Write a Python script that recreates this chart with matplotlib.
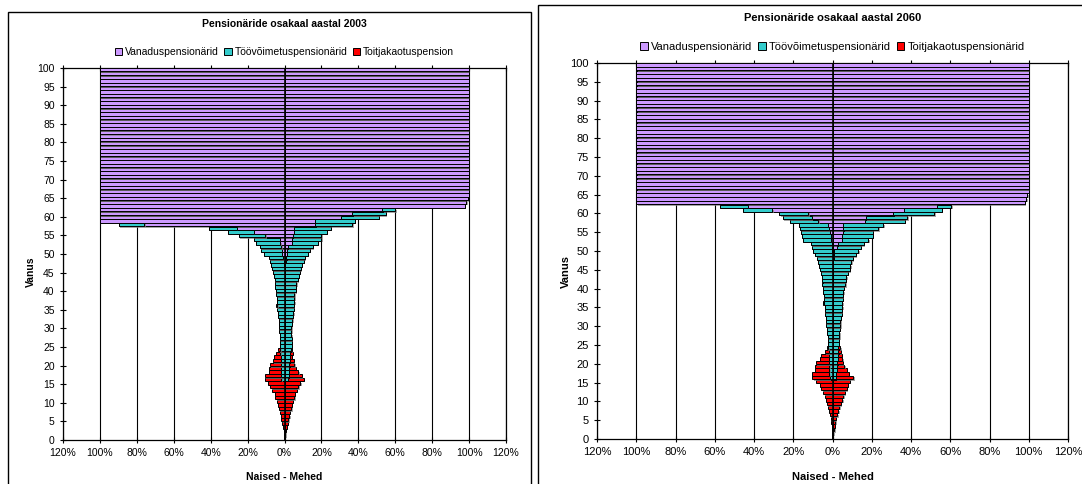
import numpy as np
import matplotlib
matplotlib.use('Agg')
import matplotlib.pyplot as plt
from matplotlib.patches import Patch, Rectangle
import matplotlib.patheffects as pe

plt.rcParams['font.family'] = ['Liberation Sans', 'DejaVu Sans']

ages = np.arange(0, 101)

# ---- 2003: shares (%) by age 0..100 ----
w03_old = [0, 0, 0, 0, 0, 0, 0, 0, 0, 0, 0, 0, 0, 0, 0, 0, 0, 0, 0, 0,
           0, 0, 0, 0, 0, 0, 0, 0, 0, 0, 0, 0, 0, 0, 0, 0, 0, 0, 0, 0,
           0, 0, 0, 0, 0, 0, 0, 0.2, 0.5, 0.6, 1.3, 1.3, 1.8, 2.3, 2.7, 10.4, 16.5, 26.0, 76.0, 100,
           100, 100, 100, 100, 100, 100, 100, 100, 100, 100, 100, 100, 100, 100, 100, 100, 100, 100, 100, 100,
           100, 100, 100, 100, 100, 100, 100, 100, 100, 100, 100, 100, 100, 100, 100, 100, 100, 100, 100, 100,
           100]
w03_dis = [0, 0, 0, 0, 0, 0, 0, 0, 0, 0, 0, 0, 0, 0, 0, 0, 1.8, 2.0, 2.0, 2.0,
           2.0, 2.0, 2.1, 2.2, 2.3, 2.4, 2.5, 2.5, 2.6, 2.8, 3.0, 3.1, 3.2, 3.4, 3.6, 3.9, 4.0, 4.1, 4.3, 4.4,
           4.7, 4.9, 5.0, 5.4, 5.9, 6.2, 6.7, 7.2, 7.1, 7.8, 10.0, 11.3, 11.7, 13.0, 14.0, 14.2, 14.0, 14.8, 13.8, 0,
           0, 0, 0, 0, 0, 0, 0, 0, 0, 0, 0, 0, 0, 0, 0, 0, 0, 0, 0, 0,
           0, 0, 0, 0, 0, 0, 0, 0, 0, 0, 0, 0, 0, 0, 0, 0, 0, 0, 0, 0,
           0]
w03_surv = [0.2, 0.3, 0.5, 0.7, 1.1, 1.7, 2.0, 2.6, 3.0, 3.7, 4.3, 4.9, 5.4, 6.7, 7.7, 9.0, 9.0, 8.8, 6.6, 6.2,
            6.0, 4.4, 3.7, 2.3, 1.1, 0, 0, 0, 0, 0, 0, 0, 0, 0, 0, 0, 0.6, 0, 0, 0,
            0, 0, 0, 0, 0, 0, 0, 0, 0, 0, 0, 0, 0, 0, 0, 0, 0, 0, 0, 0,
            0, 0, 0, 0, 0, 0, 0, 0, 0, 0, 0, 0, 0, 0, 0, 0, 0, 0, 0, 0,
            0, 0, 0, 0, 0, 0, 0, 0, 0, 0, 0, 0, 0, 0, 0, 0, 0, 0, 0, 0,
            0]
m03_old = [0, 0, 0, 0, 0, 0, 0, 0, 0, 0, 0, 0, 0, 0, 0, 0, 0, 0, 0, 0,
           0, 0, 0, 0, 0, 0, 0, 0, 0, 0, 0, 0, 0, 0, 0, 0, 0, 0, 0, 0,
           0, 0, 0, 0, 0, 0.2, 0.3, 0.5, 0.8, 1.0, 1.3, 1.3, 1.8, 4.0, 4.2, 4.5, 5.0, 5.4, 16.6, 16.6,
           30.7, 36.7, 53.0, 97.6, 98.5, 99.3, 100, 100, 100, 100, 100, 100, 100, 100, 100, 100, 100, 100, 100, 100,
           100, 100, 100, 100, 100, 100, 100, 100, 100, 100, 100, 100, 100, 100, 100, 100, 100, 100, 100, 100,
           100]
m03_dis = [0, 0, 0, 0, 0, 0, 0, 0, 0, 0, 0, 0, 0, 0, 0, 0, 2.0, 2.2, 2.4, 2.5,
           2.6, 2.8, 3.0, 3.2, 3.4, 4.1, 4.0, 3.8, 3.7, 3.7, 3.7, 4.0, 4.2, 4.5, 4.7, 4.9, 5.2, 5.4, 5.4, 5.4,
           6.0, 6.0, 6.3, 7.2, 7.8, 8.1, 8.4, 9.0, 9.6, 10.0, 11.4, 12.3, 13.6, 14.0, 15.8, 15.5, 18.0, 19.6, 20.1, 21.4,
           20.3, 18.3, 7.0, 0, 0, 0, 0, 0, 0, 0, 0, 0, 0, 0, 0, 0, 0, 0, 0, 0,
           0, 0, 0, 0, 0, 0, 0, 0, 0, 0, 0, 0, 0, 0, 0, 0, 0, 0, 0, 0,
           0]
m03_surv = [0.3, 0.4, 0.7, 1.1, 1.7, 2.0, 2.6, 3.0, 3.6, 4.1, 4.5, 5.4, 5.6, 6.7, 7.5, 8.6, 8.5, 7.1, 5.1, 3.5,
            2.8, 2.1, 1.1, 1.3, 0.7, 0, 0, 0, 0, 0, 0, 0, 0, 0, 0, 0, 0, 0, 0, 0,
            0, 0, 0, 0, 0, 0, 0, 0, 0, 0, 0, 0, 0, 0, 0, 0, 0, 0, 0, 0,
            0, 0, 0, 0, 0, 0, 0, 0, 0, 0, 0, 0, 0, 0, 0, 0, 0, 0, 0, 0,
            0, 0, 0, 0, 0, 0, 0, 0, 0, 0, 0, 0, 0, 0, 0, 0, 0, 0, 0, 0,
            0]

# ---- 2060 ----
w60_old = [0, 0, 0, 0, 0, 0, 0, 0, 0, 0, 0, 0, 0, 0, 0, 0, 0, 0, 0, 0,
           0, 0, 0, 0, 0, 0, 0, 0, 0, 0, 0, 0, 0, 0, 0, 0, 0, 0, 0, 0,
           0, 0, 0, 0, 0, 0, 0, 0, 0, 0, 0.3, 0.5, 0.5, 0.8, 1.0, 1.4, 1.9, 2.4, 7.3, 10.6,
           12.3, 30.6, 43.2, 100, 100, 100, 100, 100, 100, 100, 100, 100, 100, 100, 100, 100, 100, 100, 100, 100,
           100, 100, 100, 100, 100, 100, 100, 100, 100, 100, 100, 100, 100, 100, 100, 100, 100, 100, 100, 100,
           100]
w60_dis = [0, 0, 0, 0, 0, 0, 0, 0, 0, 0, 0, 0, 0, 0, 0, 0, 1.5, 1.6, 1.7, 1.7,
           1.8, 1.8, 1.9, 2.0, 2.1, 2.3, 2.4, 2.5, 2.8, 3.0, 3.2, 3.3, 3.5, 3.7, 3.9, 4.0, 4.3, 4.4, 4.5, 4.6,
           4.7, 5.1, 5.1, 5.4, 5.8, 6.3, 6.8, 7.6, 8.1, 8.8, 9.5, 10.0, 10.5, 14.0, 14.6, 14.4, 14.5, 14.6, 14.2, 14.7,
           14.8, 14.9, 14.3, 0, 0, 0, 0, 0, 0, 0, 0, 0, 0, 0, 0, 0, 0, 0, 0, 0,
           0, 0, 0, 0, 0, 0, 0, 0, 0, 0, 0, 0, 0, 0, 0, 0, 0, 0, 0, 0,
           0]
w60_surv = [0.2, 0.3, 0.4, 0.5, 0.9, 1.0, 1.4, 1.9, 2.3, 2.8, 3.2, 4.0, 4.6, 5.8, 6.3, 8.5, 8.7, 9.0, 7.1, 7.1,
            6.7, 4.5, 3.9, 1.9, 0.7, 0, 0, 0, 0, 0, 0, 0, 0, 0, 0, 0, 0.5, 0, 0, 0,
            0, 0, 0, 0, 0, 0, 0, 0, 0, 0, 0, 0, 0, 0, 0, 0, 0, 0, 0, 0,
            0, 0, 0, 0, 0, 0, 0, 0, 0, 0, 0, 0, 0, 0, 0, 0, 0, 0, 0, 0,
            0, 0, 0, 0, 0, 0, 0, 0, 0, 0, 0, 0, 0, 0, 0, 0, 0, 0, 0, 0,
            0]
m60_old = [0, 0, 0, 0, 0, 0, 0, 0, 0, 0, 0, 0, 0, 0, 0, 0, 0, 0, 0, 0,
           0, 0, 0, 0, 0, 0, 0, 0, 0, 0, 0, 0, 0, 0, 0, 0, 0, 0, 0, 0,
           0, 0, 0, 0, 0, 0, 0, 0.5, 0.6, 0.8, 1.0, 2.2, 2.7, 4.6, 4.8, 5.1, 5.6, 5.6, 16.6, 17.0,
           30.9, 36.5, 53.5, 98.0, 98.8, 99.3, 100, 100, 100, 100, 100, 100, 100, 100, 100, 100, 100, 100, 100, 100,
           100, 100, 100, 100, 100, 100, 100, 100, 100, 100, 100, 100, 100, 100, 100, 100, 100, 100, 100, 100,
           100]
m60_dis = [0, 0, 0, 0, 0, 0, 0, 0, 0, 0, 0, 0, 0, 0, 0, 0, 1.8, 2.0, 2.1, 2.2,
           2.4, 2.6, 2.7, 2.9, 3.0, 3.2, 3.3, 3.4, 3.5, 3.7, 3.9, 4.0, 4.3, 4.6, 4.8, 4.9, 5.0, 5.1, 5.3, 5.6,
           5.9, 6.5, 6.8, 7.1, 7.8, 8.8, 9.0, 9.0, 9.9, 11.1, 12.2, 12.2, 13.1, 13.7, 15.6, 15.3, 17.8, 20.2, 20.2, 21.2,
           20.9, 19.2, 7.1, 0, 0, 0, 0, 0, 0, 0, 0, 0, 0, 0, 0, 0, 0, 0, 0, 0,
           0, 0, 0, 0, 0, 0, 0, 0, 0, 0, 0, 0, 0, 0, 0, 0, 0, 0, 0, 0,
           0]
m60_surv = [0.3, 0.4, 0.9, 1.2, 1.4, 1.8, 2.5, 3.0, 3.5, 4.2, 4.9, 5.6, 6.3, 7.4, 7.9, 8.8, 8.8, 6.3, 5.3, 3.8,
            2.9, 2.3, 2.1, 1.3, 0.9, 0, 0, 0, 0, 0, 0, 0, 0, 0, 0, 0, 0, 0, 0, 0,
            0, 0, 0, 0, 0, 0, 0, 0, 0, 0, 0, 0, 0, 0, 0, 0, 0, 0, 0, 0,
            0, 0, 0, 0, 0, 0, 0, 0, 0, 0, 0, 0, 0, 0, 0, 0, 0, 0, 0, 0,
            0, 0, 0, 0, 0, 0, 0, 0, 0, 0, 0, 0, 0, 0, 0, 0, 0, 0, 0, 0,
            0]

names03 = ['Vanaduspensionärid', 'Töövõimetuspensionärid', 'Toitjakaotuspension']
names60 = ['Vanaduspensionärid', 'Töövõimetuspensionärid', 'Toitjakaotuspensionärid']
colors = ['#CC99FF', '#33CCCC', '#FF0000']
xticks = np.arange(-120, 121, 20)
yticks = np.arange(0, 101, 5)

W, H = 1082, 484
fig = plt.figure(figsize=(W / 100, H / 100), dpi=100)

def px_axes(x0, y0, x1, y1):
    return fig.add_axes([x0 / W, 1 - y1 / H, (x1 - x0) / W, (y1 - y0) / H])

shadow = [pe.SimplePatchShadow(offset=(1, -1), shadow_rgbFace='#808080', alpha=0.7), pe.Normal()]

def panel(box, ax_px, women, men, title, names, title_y, leg_y, vanus_x, fs):
    # outer frame
    fig.add_artist(Rectangle((box[0] / W, -0.1), (box[1] - box[0]) / W, 1.1 - box[2] / H,
                             transform=fig.transFigure, fill=False, ec='black', lw=1))
    ax = px_axes(*ax_px)
    y = ages + 0.5
    for vals, sign in ((women, -1), (men, 1)):
        left = np.zeros(len(ages))
        for v, c in zip(vals, colors):
            v = np.array(v)
            ax.barh(y, sign * v, left=sign * left, height=0.9, color=c,
                    edgecolor='black', linewidth=0.7, path_effects=shadow, zorder=3)
            left = left + v
    ax.set_xlim(-120, 120)
    ax.set_ylim(0, 101)
    ax.set_xticks(xticks, [f'{abs(v)}%' for v in xticks], fontsize=fs)
    ax.set_yticks(yticks * 1.01, [str(v) for v in yticks], fontsize=fs)
    ax.tick_params(axis='x', direction='inout', length=5, top=True, width=0.8)
    ax.tick_params(axis='y', direction='inout', length=5, width=0.8)
    ax.xaxis.grid(True, color='black', lw=0.8)
    ax.set_axisbelow(True)
    ax.axvline(0, color='black', lw=1.2, zorder=6)
    for s in ax.spines.values():
        s.set_linewidth(0.9)
    cx = (ax_px[0] + ax_px[2]) / 2
    fig.text(cx / W, 1 - title_y / H, title, ha='center', va='center', fontsize=fs, fontweight='bold')
    fig.text(cx / W, 1 - 477 / H, 'Naised - Mehed', ha='center', va='center', fontsize=fs, fontweight='bold')
    fig.text(vanus_x / W, 1 - 272 / H, 'Vanus', ha='center', va='center', rotation=90,
             fontsize=fs, fontweight='bold')
    handles = [Patch(facecolor=c, edgecolor='black', lw=0.7) for c in colors]
    fig.legend(handles, names, loc='center', bbox_to_anchor=(cx / W, 1 - leg_y / H), ncol=3,
               frameon=False, fontsize=fs, handlelength=0.7, handleheight=0.7,
               handletextpad=0.3, columnspacing=0.5, borderpad=0)
    return ax

panel((8, 531, 12), (63, 68, 506, 440),
      (w03_old, w03_dis, w03_surv), (m03_old, m03_dis, m03_surv),
      'Pensionäride osakaal aastal 2003', names03, 24, 52, 31, 7.5)
panel((538, 1100, 5), (597, 63, 1068, 439),
      (w60_old, w60_dis, w60_surv), (m60_old, m60_dis, m60_surv),
      'Pensionäride osakaal aastal 2060', names60, 18, 47, 566, 8)

fig.savefig('out.png', dpi=100)
